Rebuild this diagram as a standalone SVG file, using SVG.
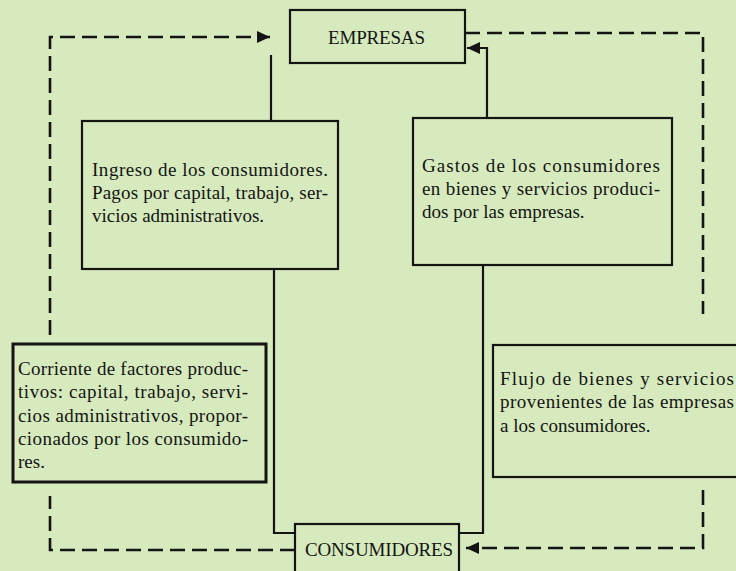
<svg xmlns="http://www.w3.org/2000/svg" width="736" height="571" viewBox="0 0 736 571">
<style>
.box{fill:#d6eabd;stroke:#141414;stroke-width:2.2}
.thick{stroke-width:3}
.t{font-family:"Liberation Serif","Times New Roman",serif;font-size:19px;fill:#141414}
.solid{fill:none;stroke:#141414;stroke-width:2.2}
.dash{fill:none;stroke:#141414;stroke-width:2.6;stroke-dasharray:15 7}
</style>
<defs>
<marker id="ah" markerUnits="userSpaceOnUse" markerWidth="14" markerHeight="14" refX="13" refY="7" orient="auto">
<path d="M0,1 L13,7 L0,13 z" fill="#141414"/>
</marker>
</defs>
<rect width="736" height="571" fill="#d6eabd"/>
<g id="connectors">
<path class="dash" d="M 295 550 H 50 V 496"/>
<path class="dash" d="M 50 335 V 37 H 270" marker-end="url(#ah)"/>
<path class="dash" d="M 465 33 H 703 V 314"/>
<path class="dash" d="M 703 490 V 548 H 466" marker-end="url(#ah)"/>
<path class="solid" d="M 271 121 V 55"/>
<path class="solid" d="M 274 269 V 533 H 295"/>
<path class="solid" d="M 487 118 V 48 H 467" marker-end="url(#ah)"/>
<path class="solid" d="M 483 265 V 533 H 459"/>
</g>
<g id="empresas">
<rect class="box" x="290" y="10" width="175" height="53"/>
<text class="t" x="328" y="44" textLength="97">EMPRESAS</text>
</g>
<g id="consumidores">
<rect class="box" x="295" y="524" width="164" height="60"/>
<text class="t" x="305" y="556" textLength="148">CONSUMIDORES</text>
</g>
<g id="ingreso">
<rect class="box" x="82" y="121" width="256" height="148"/>
<text class="t" x="92" y="176" textLength="236" lengthAdjust="spacing">Ingreso de los consumidores.</text>
<text class="t" x="92" y="199" textLength="236" lengthAdjust="spacing">Pagos por capital, trabajo, ser-</text>
<text class="t" x="92" y="222">vicios administrativos.</text>
</g>
<g id="gastos">
<rect class="box" x="413" y="118" width="259" height="147"/>
<text class="t" x="422" y="172" textLength="238" lengthAdjust="spacing">Gastos de los consumidores</text>
<text class="t" x="422" y="195" textLength="238" lengthAdjust="spacing">en bienes y servicios produci-</text>
<text class="t" x="422" y="218">dos por las empresas.</text>
</g>
<g id="corriente">
<rect class="box thick" x="13" y="344" width="253" height="138"/>
<text class="t" x="18" y="375" textLength="230" lengthAdjust="spacing">Corriente de factores produc-</text>
<text class="t" x="18" y="398" textLength="230" lengthAdjust="spacing">tivos:  capital, trabajo, servi-</text>
<text class="t" x="18" y="422" textLength="230" lengthAdjust="spacing">cios administrativos, propor-</text>
<text class="t" x="18" y="445" textLength="230" lengthAdjust="spacing">cionados por los consumido-</text>
<text class="t" x="18" y="468">res.</text>
</g>
<g id="flujo">
<rect class="box" x="493" y="345" width="260" height="132"/>
<text class="t" x="500" y="385" textLength="234" lengthAdjust="spacing">Flujo de bienes y servicios</text>
<text class="t" x="500" y="408" textLength="234" lengthAdjust="spacing">provenientes de las empresas</text>
<text class="t" x="500" y="432">a los consumidores.</text>
</g>
</svg>
